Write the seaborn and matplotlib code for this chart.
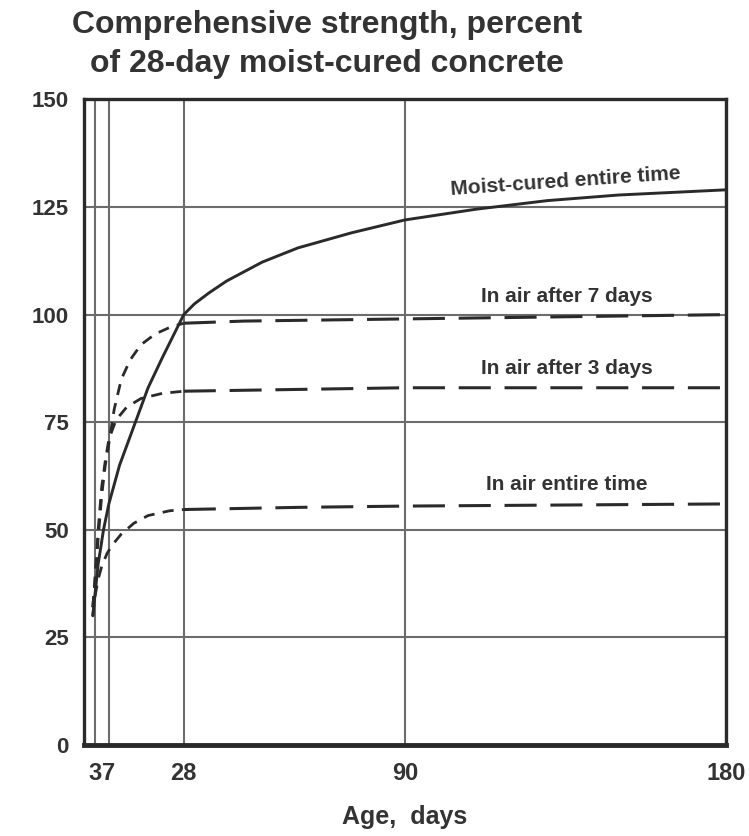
import matplotlib
matplotlib.use("Agg")
import matplotlib.pyplot as plt
import numpy as np
import pandas as pd
import seaborn as sns

# ---- data ----
moist_days = [2.5, 3, 4, 5.5, 7, 10, 14, 18, 22, 25, 28, 31, 35, 40, 45, 50, 60, 75, 90, 110, 130, 150, 180]
moist_vals = [30, 34, 42, 50, 56, 65, 74, 83, 90, 95, 100, 102.5, 105, 107.8, 110, 112.2, 115.5, 119, 122, 124.5, 126.5, 127.8, 129]

air7_days = [2.5, 3, 4, 5, 6, 7, 8.5, 10.5, 13, 16, 20, 24, 28, 45, 90, 180]
air7_vals = [32, 37, 48, 58, 65, 70, 78, 85, 89.5, 93, 95.5, 97, 98, 98.5, 99, 100]

air3_days = [2.5, 3, 4, 5, 6, 7, 9, 12, 16, 22, 28, 90, 180]
air3_vals = [32, 37, 50, 60, 66, 71, 75.5, 78.5, 80.5, 81.7, 82.2, 83, 83]

airall_days = [2.5, 3, 4, 5, 6.5, 8, 10.5, 14, 18, 24, 28, 60, 90, 180]
airall_vals = [30, 34, 38.5, 41.5, 44.5, 46.5, 49, 51.5, 53.3, 54.4, 54.7, 55.2, 55.5, 56]

series_names = ["Moist-cured entire time", "In air after 7 days",
                "In air after 3 days", "In air entire time"]

x_ticks = [3, 7, 28, 90, 180]
x_tick_labels = ["3", "7", "28", "90", "180"]
y_ticks = [0, 25, 50, 75, 100, 125, 150]
y_tick_labels = ["0", "25", "50", "75", "100", "125", "150"]

title_text = "Comprehensive strength, percent\nof 28-day moist-cured concrete"
x_label = "Age,  days"

# ---- style ----
sns.set_theme(style="white")
plt.rcParams['font.family'] = ['Liberation Sans', 'DejaVu Sans']

ink = "#2a2a2a"
txt = "#333333"
grid_c = "#6c6c6c"

fig = plt.figure(figsize=(7.49, 8.36), dpi=100)
ax = fig.add_axes([0.112, 0.109, 0.857, 0.772])

# solid moist-cured curve
sns.lineplot(x=moist_days, y=moist_vals, ax=ax, color=ink, linewidth=2.1,
             sort=True, estimator=None)

short_dash = (0, (4.0, 3.0))
long_dash = (0, (10.5, 4.5))
for days, vals in [(air7_days, air7_vals), (air3_days, air3_vals), (airall_days, airall_vals)]:
    df = pd.DataFrame({"day": days, "val": vals})
    early = df[df["day"] <= 28]
    late = df[df["day"] >= 28]
    sns.lineplot(data=early, x="day", y="val", ax=ax, color=ink, linewidth=2.0,
                 linestyle=short_dash, estimator=None, sort=True)
    sns.lineplot(data=late, x="day", y="val", ax=ax, color=ink, linewidth=2.2,
                 linestyle=long_dash, estimator=None, sort=True)

ax.set_xlim(0, 180)
ax.set_ylim(0, 150)
ax.set_xticks(x_ticks)
ax.set_xticklabels(x_tick_labels, fontweight="bold")
ax.set_yticks(y_ticks)
ax.set_yticklabels(y_tick_labels, fontweight="bold")
ax.tick_params(axis="both", length=0, labelsize=16, colors=txt)
ax.tick_params(axis="x", pad=12, labelsize=17)
ax.tick_params(axis="y", pad=11)
ax.grid(True, color=grid_c, linewidth=1.5)
ax.set_axisbelow(True)
ax.set_xlabel(x_label, fontsize=18, color=txt, labelpad=15, fontweight="bold")
ax.set_ylabel("")

for side, s in ax.spines.items():
    s.set_visible(True)
    s.set_color(ink)
    s.set_linewidth(2.4)
ax.spines["bottom"].set_linewidth(3.5)

# curve labels
lab_kw = dict(fontsize=15, color=txt, ha="center", va="center", fontweight="bold")
ax.text(135, 131, series_names[0], rotation=4, rotation_mode="anchor", **lab_kw)
ax.text(135.5, 104.2, series_names[1], **lab_kw)
ax.text(135.5, 87.5, series_names[2], **lab_kw)
ax.text(135.5, 60.4, series_names[3], **lab_kw)

fig.text(0.437, 0.988, title_text, fontsize=23, color=txt, ha="center", va="top",
         linespacing=1.4, fontweight="bold")

fig.savefig("out.png", dpi=100)
